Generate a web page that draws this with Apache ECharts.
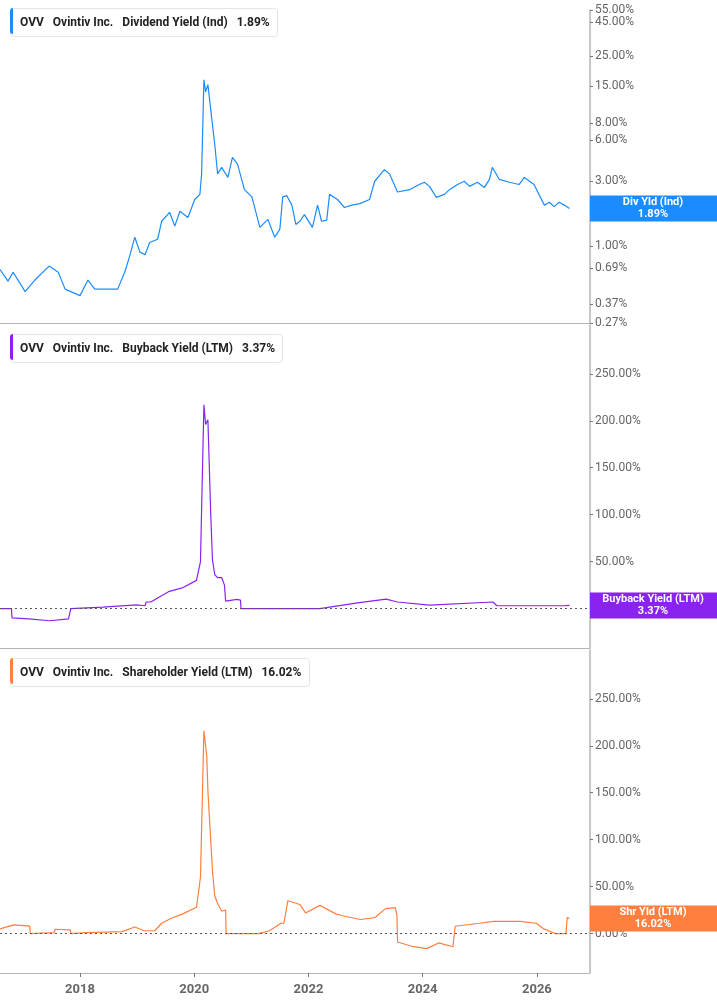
<!DOCTYPE html>
<html><head><meta charset="utf-8">
<script src="https://cdn.jsdelivr.net/npm/echarts@6/dist/echarts.min.js"></script>
<style>html,body{margin:0;padding:0;background:#fff}#c{width:717px;height:1005px}</style>
</head><body><div id="c"></div>
<script>
// Dividend yield (Ind), %
const divYears = [2016.60,2016.74,2016.83,2017.04,2017.21,2017.46,2017.62,2017.74,2018.00,2018.14,2018.26,2018.44,2018.66,2018.79,2018.87,2018.96,2019.05,2019.14,2019.22,2019.36,2019.43,2019.57,2019.66,2019.75,2019.89,2020.01,2020.10,2020.13,2020.17,2020.20,2020.24,2020.31,2020.36,2020.41,2020.48,2020.59,2020.67,2020.76,2020.88,2021.01,2021.15,2021.29,2021.41,2021.50,2021.55,2021.62,2021.71,2021.78,2021.85,2021.93,2022.07,2022.16,2022.23,2022.32,2022.37,2022.51,2022.63,2022.76,2022.90,2023.07,2023.16,2023.33,2023.42,2023.56,2023.77,2023.94,2024.03,2024.12,2024.24,2024.38,2024.47,2024.61,2024.73,2024.82,2024.96,2025.08,2025.17,2025.22,2025.34,2025.52,2025.69,2025.78,2025.95,2026.13,2026.22,2026.30,2026.39,2026.48,2026.57];
const divValues = [0.67,0.55,0.64,0.46,0.56,0.71,0.64,0.48,0.43,0.56,0.48,0.48,0.48,0.65,0.84,1.16,0.90,0.86,1.06,1.12,1.52,1.77,1.40,1.80,1.62,2.20,2.40,3.40,16.8,13.7,15.5,8.5,5.6,3.4,3.8,3.2,4.5,4.0,2.6,2.3,1.37,1.57,1.16,1.33,2.30,2.35,2.00,1.44,1.52,1.70,1.37,2.00,1.52,1.55,2.40,2.20,1.92,2.00,2.05,2.20,3.00,3.65,3.40,2.50,2.60,2.84,2.95,2.75,2.28,2.40,2.60,2.84,3.00,2.75,2.95,2.70,3.10,3.80,3.10,2.95,2.84,3.20,2.84,2.00,2.10,1.95,2.10,2.00,1.89];
// Buyback yield (LTM), %
const bbYears = [2016.60,2016.80,2016.81,2017.10,2017.47,2017.80,2017.83,2017.84,2018.40,2018.99,2019.14,2019.16,2019.24,2019.55,2019.79,2020.04,2020.11,2020.17,2020.20,2020.24,2020.29,2020.32,2020.36,2020.41,2020.48,2020.53,2020.55,2020.75,2020.81,2020.82,2022.20,2022.86,2023.36,2023.56,2024.12,2025.23,2025.30,2026.50,2026.57];
const bbValues = [0,0,-10,-11,-13,-11,-10,0,1.5,4,3,7,7,18,22,30,50,217,196,201,100,52,36,33,33,25,8,9.8,9,0,0,6,10,7,3.7,7,3,3.2,3.37];
// Shareholder yield (LTM), %
const shYears = [2016.60,2016.84,2017.12,2017.13,2017.55,2017.56,2017.83,2017.84,2018.12,2018.74,2018.96,2019.12,2019.31,2019.43,2019.59,2019.80,2020.04,2020.11,2020.17,2020.22,2020.24,2020.29,2020.32,2020.36,2020.41,2020.48,2020.55,2020.56,2021.12,2021.31,2021.52,2021.57,2021.64,2021.85,2021.95,2022.20,2022.48,2022.60,2022.91,2023.16,2023.35,2023.52,2023.55,2023.56,2023.84,2024.07,2024.28,2024.53,2024.56,2024.57,2024.99,2025.24,2025.71,2025.99,2026.11,2026.32,2026.51,2026.53,2026.57];
const shValues = [5,9.3,8,0,1,4.6,4,0,1,2,7,3,3,11,16,21,28,60,216,189,152,99,67,40,32,24,25,0,0,2.7,11,11,35,31,22,30,21,19,15,16.9,26.6,27.7,19.5,-9,-14,-16,-10,-14,-12,7.8,11,13,13,11,5.3,0,0,17,16.02];

const yearTicks = [2018,2020,2022,2024,2026];
const divTicks = [0.27,0.37,0.69,1,2,3,6,8,15,25,45,55];
const pctTicks = [0,50,100,150,200,250];

const L = Math.log10;
const pair = (xs, ys, f) => xs.map((x,i)=>[x, f ? f(ys[i]) : ys[i]]);
const chart = echarts.init(document.getElementById('c'));
const axisCol = '#b5b5b5';
const X0 = 2016.6, X1 = 2026.93;
const grids = [{left:0,right:127,top:10,height:313},{left:0,right:127,top:325,height:323},{left:0,right:127,top:650,height:323}];
const xAxes = grids.map((g,i)=>({type:'value',gridIndex:i,min:X0,max:X1,
  axisLine:{show:true,onZero:false,lineStyle:{color:axisCol}},splitLine:{show:false},
  axisTick:{show:i===2,customValues:yearTicks,length:4,lineStyle:{color:'#777'}},
  axisLabel:{show:i===2,customValues:yearTicks,formatter:v=>String(Math.round(v)),color:'#666',fontWeight:'bold',fontSize:13,fontFamily:'Roboto',margin:10}}));
const yCommon = {position:'right',axisLine:{show:true,lineStyle:{color:axisCol,width:1.5}},splitLine:{show:false},
  axisTick:{show:true,length:3,inside:false,lineStyle:{color:'#777'}},
  axisLabel:{color:'#666',fontSize:12,fontFamily:'Roboto',margin:5}};
const yAxes = [
  Object.assign({},yCommon,{type:'value',gridIndex:0,min:L(0.27),max:L(55),
    axisTick:Object.assign({},yCommon.axisTick,{customValues:divTicks.map(L)}),
    axisLabel:Object.assign({},yCommon.axisLabel,{customValues:divTicks.map(L),formatter:v=>Math.pow(10,v).toFixed(2)+'%'})}),
  Object.assign({},yCommon,{type:'value',gridIndex:1,min:-42,max:302,
    axisTick:Object.assign({},yCommon.axisTick,{customValues:pctTicks}),
    axisLabel:Object.assign({},yCommon.axisLabel,{customValues:pctTicks,formatter:v=>v.toFixed(2)+'%'})}),
  Object.assign({},yCommon,{type:'value',gridIndex:2,min:-42,max:302,
    axisTick:Object.assign({},yCommon.axisTick,{customValues:pctTicks}),
    axisLabel:Object.assign({},yCommon.axisLabel,{customValues:pctTicks,formatter:v=>v.toFixed(2)+'%'})})
];
const zeroLine = {silent:true,symbol:'none',label:{show:false},lineStyle:{color:'#555',type:[2,3],width:1},data:[{yAxis:0}]};
const colors = ['#1a8cff','#8a22f2','#ff7f3f'];
const series = [
  {type:'line',xAxisIndex:0,yAxisIndex:0,data:pair(divYears,divValues,L),showSymbol:false,lineStyle:{width:1.2,color:colors[0]},z:3},
  {type:'line',xAxisIndex:1,yAxisIndex:1,data:pair(bbYears,bbValues),showSymbol:false,lineStyle:{width:1.2,color:colors[1]},markLine:zeroLine,z:3},
  {type:'line',xAxisIndex:2,yAxisIndex:2,data:pair(shYears,shValues),showSymbol:false,lineStyle:{width:1.2,color:colors[2]},markLine:zeroLine,z:3}
];
const titleDefs = [
  ['Dividend Yield (Ind)','1.89%',8],['Buyback Yield (LTM)','3.37%',334],['Shareholder Yield (LTM)','16.02%',658]];
const titles = titleDefs.map(t=>({left:10,top:t[2],padding:[6,8,5,10],borderColor:'#e4e4e4',borderWidth:1,borderRadius:3,backgroundColor:'#fff',
  text:'{b|OVV}{s|}{b|Ovintiv Inc.}{s|}{n|'+t[0]+'}{s|}{b|'+t[1]+'}',
  textStyle:{rich:{b:{fontWeight:'bold',fontSize:12,color:'#222',fontFamily:'Roboto'},n:{fontSize:12,color:'#222',fontFamily:'Roboto'},s:{width:9}}}}));
chart.setOption({animation:false,grid:grids,xAxis:xAxes,yAxis:yAxes,series:series,title:titles});

const tags = [
  {g:0,v:L(1.89),t:'Div Yld (Ind)\n1.89%',c:colors[0]},
  {g:1,v:3.37,t:'Buyback Yield (LTM)\n3.37%',c:colors[1]},
  {g:2,v:16.02,t:'Shr Yld (LTM)\n16.02%',c:colors[2]}];
const gfx = [];
tags.forEach(tg=>{
  const y = chart.convertToPixel({yAxisIndex:tg.g},tg.v);
  gfx.push({type:'rect',shape:{x:590,y:y-13,width:127,height:26},style:{fill:tg.c},z:10});
  gfx.push({type:'text',x:653,y:y,style:{text:tg.t,fill:'#fff',font:'bold 11px Roboto',align:'center',verticalAlign:'middle',lineHeight:12},z:11});
});
titleDefs.forEach((t,i)=>{
  gfx.push({type:'rect',shape:{x:10,y:t[2],width:3,height:26,r:[3,0,0,3]},style:{fill:colors[i]},z:20});
});
gfx.push({type:'line',shape:{x1:0,y1:323.5,x2:590,y2:323.5},style:{stroke:axisCol}});
chart.setOption({graphic:gfx});
</script></body></html>
